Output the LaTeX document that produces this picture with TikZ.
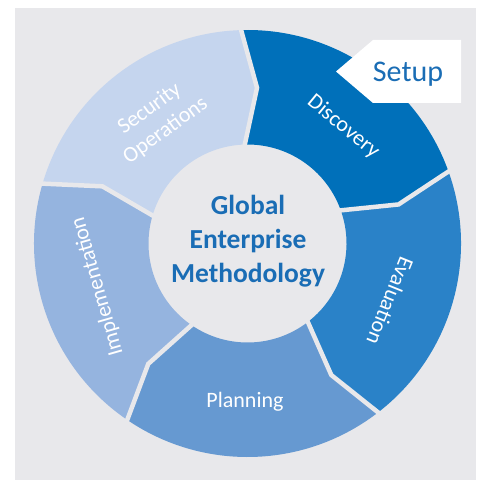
\documentclass[tikz,border=0pt]{standalone}
\usepackage{fontspec}
\setmainfont{Carlito}
\usetikzlibrary{calc}
\definecolor{bgc}{HTML}{E8E8EB}
\definecolor{disc}{HTML}{0070BA}
\definecolor{eval}{HTML}{2A82C8}
\definecolor{plan}{HTML}{6699D1}
\definecolor{impl}{HTML}{95B4DF}
\definecolor{secop}{HTML}{C5D5EE}
\definecolor{tblue}{HTML}{1A6DB5}
\begin{document}
\begin{tikzpicture}[x=1pt,y=1pt,
  lbl/.style={text=white,font=\fontsize{22}{27}\selectfont,inner sep=0pt},
  titletext/.style={text=tblue,font=\fontsize{27.5}{34}\selectfont\bfseries,align=center,inner sep=0pt},
  setuptext/.style={text=tblue,font=\fontsize{30}{36}\selectfont,inner sep=0pt},
  sep/.style={bgc,line width=4.5pt,line join=miter}]
\useasboundingbox (0,0) rectangle (484,480);
\fill[bgc] (15,0) rectangle (476,472);
\begin{scope}[shift={(247.5,236.5)}]
  \foreach \s/\c in {92/disc,20/eval,-52/plan,-124/impl,-196/secop}{
    \pgfmathsetmacro\e{\s-72}
    \fill[\c] (\s:213.5pt) arc[start angle=\s,end angle=\e,radius=213.5pt]
      -- ({\e-5.5}:156pt) -- (\e:99pt)
      arc[start angle=\e,end angle=\s,radius=99pt]
      -- ({\s-5.5}:156pt) -- cycle;
  }
  \foreach \b in {92,20,-52,-124,-196}{
    \draw[sep] (\b:218pt) -- ({\b-5.5}:156pt) -- (\b:96pt);
  }
  \node[lbl,rotate=-39.4] (discovery) at (50.6:151pt) {Discovery};
  \node[lbl,rotate=-112] (evaluation) at (-22:154pt) {Evaluation};
  \node[lbl,anchor=base] (planning) at (-2.5,-163.5) {Planning};
  \node[lbl,rotate=106] (implementation) at (196:156pt) {Implementation};
  \node[lbl,rotate=36,align=center] (secops) at (126:153pt) {Security\\Operations};
  \node[titletext] (gem) at (0.5,2) {Global\\Enterprise\\Methodology};
\end{scope}
\fill[white] (336,408.5) -- (373,440) -- (461,440) -- (461,377) -- (373,377) -- cycle;
\node[setuptext,anchor=base] (setup) at (408,398) {Setup};
\end{tikzpicture}
\end{document}
